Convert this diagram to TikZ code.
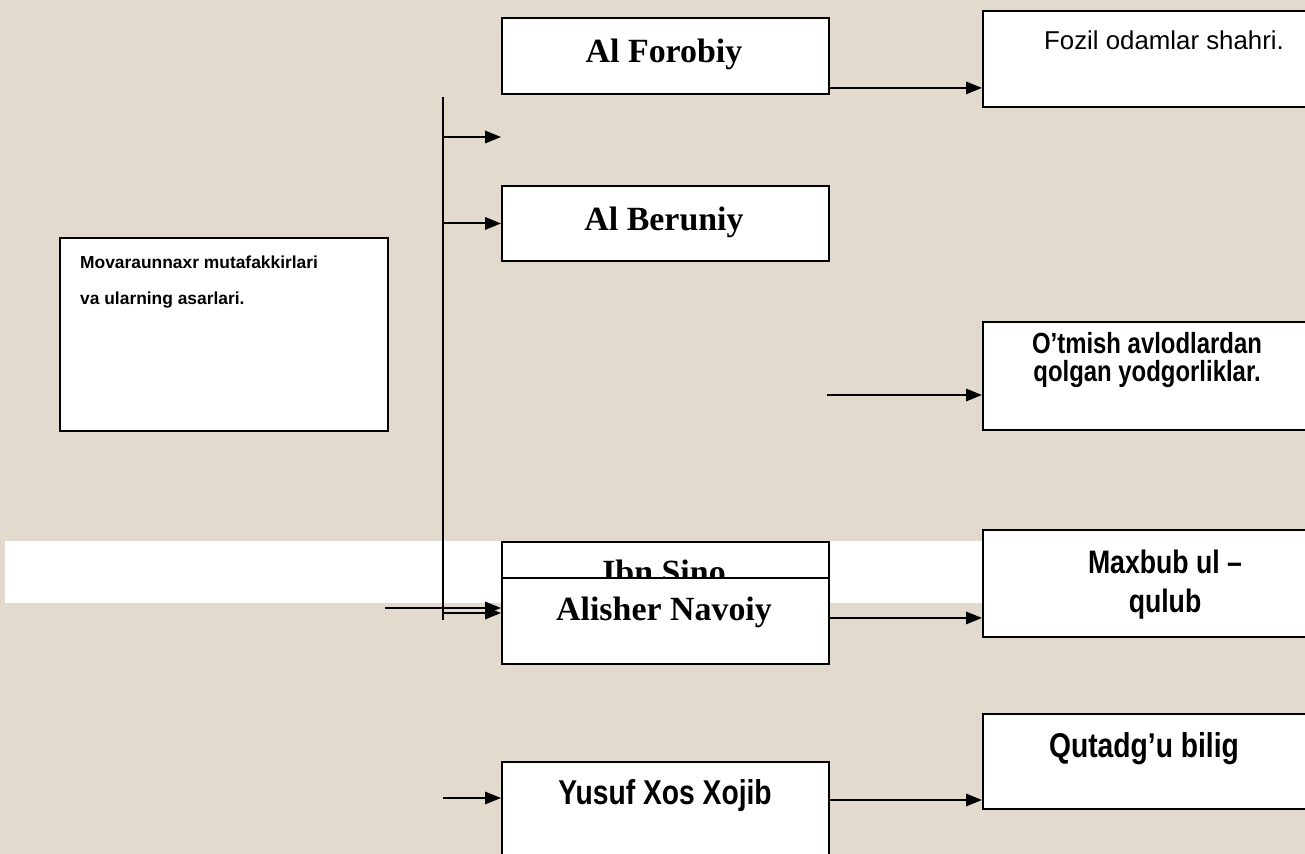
\documentclass[tikz,border=0pt]{standalone}
\usepackage{fontspec}
\setmainfont{Liberation Serif}
\newfontfamily\arialf{Liberation Sans}
\newfontfamily\narrowf[FakeStretch=0.82]{Liberation Sans}
\usetikzlibrary{arrows.meta}
\definecolor{paper}{RGB}{226,218,204}
\begin{document}
\begin{tikzpicture}[x=0.02cm,y=-0.02cm,>={Triangle[length=9pt,width=7pt]}]
        \tikzstyle{wbox}=[draw=black,line width=1.1pt,fill=white,inner sep=0pt,anchor=north west]
        \tikzstyle{midbox}=[wbox,minimum width=6.54cm]
        \tikzstyle{workbox}=[wbox,minimum width=6.8cm]
        \tikzstyle{thinker}=[font=\fontsize{19.3}{23}\selectfont\bfseries,anchor=base]
        \tikzstyle{arr}=[->,line width=1.1pt]
       \clip (0,0) rectangle (1305,854);
       \fill[paper] (0,0) rectangle (1305,854);
       \fill[white] (5,541) rectangle (990,603);
       % thinkers
         \node [midbox,minimum height=1.52cm] (forobiy) at (501,17) {};
         \node [thinker] (forobiyt) at (664,63) {Al Forobiy};
         \node [midbox,minimum height=1.50cm] (beruniy) at (501,185) {};
         \node [thinker] (beruniyt) at (664,231) {Al Beruniy};
         \node [midbox,minimum height=1.60cm] (ibnsino) at (501,541) {};
         \node [thinker] (ibnsinot) at (664,583) {Ibn Sino};
         \node [midbox,minimum height=1.72cm] (navoiy) at (501,577) {};
         \node [thinker] (navoiyt) at (664,621) {Alisher Navoiy};
         \node [midbox,minimum height=2.2cm] (yusuf) at (501,761) {};
         \node [font=\narrowf\fontsize{19.6}{23}\selectfont\bfseries,anchor=base] (yusuft) at (665,804) {Yusuf Xos Xojib};
       % works
         \node [workbox,minimum height=1.92cm] (fozil) at (982,10) {};
         \node [font=\arialf\fontsize{14.7}{17}\selectfont,anchor=base] (fozilt) at (1164,50) {Fozil odamlar shahri.};
         \node [workbox,minimum height=2.16cm] (otmish) at (982,321) {};
         \node [font=\narrowf\fontsize{16.6}{16.5}\selectfont\bfseries,align=center,anchor=base] (otmisht) at (1147,382) {O’tmish avlodlardan\\qolgan yodgorliklar.};
         \node [workbox,minimum height=2.14cm] (maxbub) at (982,529) {};
         \node [font=\narrowf\fontsize{18.5}{22}\selectfont\bfseries,align=center,anchor=base] (maxbubt) at (1165,612) {Maxbub ul –\\qulub};
         \node [workbox,minimum height=1.9cm] (qutadgu) at (982,713) {};
         \node [font=\narrowf\fontsize{19.6}{23}\selectfont\bfseries,anchor=base] (qutadgut) at (1144,757) {Qutadg’u bilig};
       % title
         \node [wbox,minimum width=6.56cm,minimum height=3.86cm] (mova) at (59,237) {};
         \node [font=\arialf\fontsize{9.9}{21}\selectfont\bfseries,align=left,anchor=base west] (movat) at (74,305) {Movaraunnaxr mutafakkirlari\\va ularning asarlari.};
       % connectors
         \coordinate (vtop) at (443,97);
         \coordinate (vbot) at (443,620);
         \draw[line width=1pt] (vtop) -- (vbot);
         \coordinate (ea) at (443,137);
         \draw[arr] (ea) -- (ea -| forobiy.west);
         \draw[arr] (vtop |- beruniy.west) -- (beruniy.west);
         \coordinate (na) at (385,608);
         \draw[arr] (na) -- (na -| navoiy.west);
         \coordinate (nb) at (443,613);
         \draw[arr] (nb) -- (nb -| navoiy.west);
         \coordinate (ya) at (443,798);
         \draw[arr] (ya) -- (ya -| yusuf.west);
         \draw[arr] ([yshift=0.14cm]forobiy.south east) coordinate (fa) -- (fa -| fozil.west);
         \coordinate (oa) at (827,395);
         \draw[arr] (oa) -- (oa -| otmish.west);
         \draw[arr] ([yshift=0.06cm]navoiy.east) coordinate (ma) -- (ma -| maxbub.west);
         \draw[arr] ([yshift=-0.78cm]yusuf.north east) coordinate (yb) -- (yb -| qutadgu.west);
      \end{tikzpicture}
\end{document}
